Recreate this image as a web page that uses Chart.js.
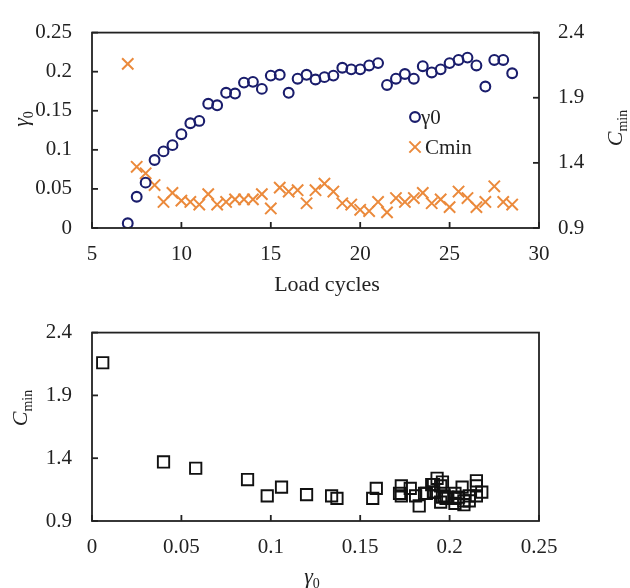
<!DOCTYPE html>
<html>
<head>
<meta charset="utf-8">
<script src="https://cdn.jsdelivr.net/npm/chart.js@4.4.1/dist/chart.umd.min.js"></script>
<style>
  html,body{margin:0;padding:0;background:#fff;}
  #wrap{position:relative;width:630px;height:588px;}
  #top{position:absolute;left:0;top:0;}
  #bottom{position:absolute;left:0;top:300px;}
</style>
</head>
<body>
<div id="wrap">
  <canvas id="top" width="630" height="300"></canvas>
  <canvas id="bottom" width="630" height="288"></canvas>
</div>
<script>
// === Data ===
const cycles = [7, 7.5, 8, 8.5, 9, 9.5, 10, 10.5, 11, 11.5, 12, 12.5, 13, 13.5, 14, 14.5,
  15, 15.5, 16, 16.5, 17, 17.5, 18, 18.5, 19, 19.5, 20, 20.5, 21, 21.5, 22, 22.5,
  23, 23.5, 24, 24.5, 25, 25.5, 26, 26.5, 27, 27.5, 28, 28.5];
const gamma0 = [0.006, 0.040, 0.058, 0.087, 0.098, 0.106, 0.120, 0.134, 0.137, 0.159, 0.157, 0.173,
  0.172, 0.186, 0.187, 0.178, 0.195, 0.196, 0.173, 0.191, 0.196, 0.190, 0.193, 0.195,
  0.205, 0.203, 0.203, 0.208, 0.211, 0.183, 0.191, 0.197, 0.191, 0.207, 0.199, 0.203,
  0.211, 0.215, 0.218, 0.208, 0.181, 0.215, 0.215, 0.198];
const cmin = [2.16, 1.37, 1.32, 1.23, 1.10, 1.17, 1.11, 1.10, 1.08, 1.16, 1.08, 1.10,
  1.12, 1.12, 1.12, 1.16, 1.05, 1.21, 1.18, 1.19, 1.09, 1.19, 1.24, 1.18,
  1.09, 1.08, 1.04, 1.03, 1.10, 1.02, 1.13, 1.10, 1.13, 1.17, 1.09, 1.12,
  1.06, 1.18, 1.13, 1.06, 1.10, 1.22, 1.10, 1.08];

const cycleTicks = [5, 10, 15, 20, 25, 30];
const cycleLabels = ["5", "10", "15", "20", "25", "30"];
const gammaTicks = [0, 0.05, 0.1, 0.15, 0.2, 0.25];
const gammaLabels = ["0", "0.05", "0.1", "0.15", "0.2", "0.25"];
const cminTicks = [0.9, 1.4, 1.9, 2.4];
const cminLabels = ["0.9", "1.4", "1.9", "2.4"];

// === Style ===
const FONT = "'Liberation Serif', 'Times New Roman', serif";
const INK = "#222";
const NAVY = "#1a1d6c";
const ORANGE = "#eb8a3c";

Chart.defaults.font.family = FONT;
Chart.defaults.color = INK;

function axis(position, min, max, ticks, labels, size, pad, inward){
  return {
    type: "linear", position, min, max,
    afterBuildTicks: s => { s.ticks = ticks.map(v => ({value: v})); },
    afterFit: s => { if(s.isHorizontal()) s.height = size; else s.width = size; },
    ticks: {callback: (v, i) => labels[i], font: {size: 21}, padding: pad, color: INK, maxRotation: 0, autoSkip: false},
    grid: {display: false, drawTicks: false},
    border: {display: false},
    inward: inward
  };
}

// text with italic / subscript pieces
function partFont(p){
  return (p.italic ? "italic " : "") + (p.sub ? 14 : 22) + "px " + FONT;
}

function drawRich(ctx, parts, x, y, rot){
  ctx.save();
  ctx.translate(x, y);
  ctx.rotate(rot);
  let total = 0;
  parts.forEach(p => { ctx.font = partFont(p); p.w = ctx.measureText(p.t).width; total += p.w; });
  let cx = -total / 2;
  ctx.textBaseline = "alphabetic";
  ctx.fillStyle = INK;
  parts.forEach(p => {
    ctx.font = partFont(p);
    ctx.fillText(p.t, cx, p.sub ? 12 : 7);
    cx += p.w;
  });
  ctx.restore();
}

// === Frame, inward ticks, titles, legend ===
const framePlugin = {
  id: "frame",
  afterDatasetsDraw(chart, args, opts){
    const {ctx, chartArea: a} = chart;
    ctx.save();
    ctx.strokeStyle = INK;
    ctx.lineWidth = 1.8;
    ctx.strokeRect(a.left, a.top, a.right - a.left, a.bottom - a.top);

    Object.values(chart.scales).forEach(s => {
      const dir = s.options.inward;
      s.ticks.forEach(t => {
        const p = s.getPixelForValue(t.value);
        ctx.beginPath();
        if(dir === "up"){ ctx.moveTo(p, a.bottom); ctx.lineTo(p, a.bottom - 6); }
        if(dir === "right"){ ctx.moveTo(a.left, p); ctx.lineTo(a.left + 6, p); }
        if(dir === "left"){ ctx.moveTo(a.right, p); ctx.lineTo(a.right - 6, p); }
        ctx.stroke();
      });
    });
    ctx.restore();

    (opts.titles || []).forEach(t => drawRich(ctx, t.parts, t.x, t.y, t.rot || 0));

    (opts.legend || []).forEach(l => {
      const ds = chart.data.datasets[l.ds];
      ctx.save();
      ctx.strokeStyle = ds.borderColor;
      ctx.lineWidth = ds.borderWidth;
      ctx.beginPath();
      if(ds.pointStyle === "circle"){
        ctx.arc(l.x, l.y, ds.pointRadius, 0, Math.PI * 2);
      } else {
        const d = ds.pointRadius * Math.SQRT1_2;
        ctx.moveTo(l.x - d, l.y - d); ctx.lineTo(l.x + d, l.y + d);
        ctx.moveTo(l.x - d, l.y + d); ctx.lineTo(l.x + d, l.y - d);
      }
      ctx.stroke();
      ctx.fillStyle = INK;
      ctx.font = "21px " + FONT;
      ctx.textBaseline = "middle";
      ctx.fillText(ds.label, l.x + l.gap, l.y + 1);
      ctx.restore();
    });
  }
};

// === Top chart: gamma0 and Cmin vs load cycles ===
new Chart(document.getElementById("top"), {
  type: "scatter",
  data: {
    datasets: [
      {label: "γ0", data: cycles.map((c, i) => ({x: c, y: gamma0[i]})), yAxisID: "y",
       pointStyle: "circle", pointRadius: 4.9, borderWidth: 2.1, borderColor: NAVY, backgroundColor: "rgba(0,0,0,0)"},
      {label: "Cmin", data: cycles.map((c, i) => ({x: c, y: cmin[i]})), yAxisID: "y2",
       pointStyle: "crossRot", pointRadius: 8, borderWidth: 2, borderColor: ORANGE, backgroundColor: ORANGE}
    ]
  },
  options: {
    responsive: false, animation: false, events: [],
    layout: {padding: {top: 23, left: 0, right: 0, bottom: 0}},
    scales: {
      x: axis("bottom", 5, 30, cycleTicks, cycleLabels, 72, 14, "up"),
      y: axis("left", 0, 0.25, gammaTicks, gammaLabels, 92, 20, "right"),
      y2: axis("right", 0.9, 2.4, cminTicks, cminLabels, 91, 19, "left")
    },
    plugins: {
      legend: {display: false},
      tooltip: {enabled: false},
      frame: {
        titles: [
          {parts: [{t: "γ", italic: true}, {t: "0", sub: true}], x: 21, y: 119, rot: -Math.PI / 2},
          {parts: [{t: "C", italic: true}, {t: "min", sub: true}], x: 615, y: 128, rot: -Math.PI / 2},
          {parts: [{t: "Load cycles"}], x: 327, y: 284}
        ],
        legend: [{ds: 0, x: 415, y: 117, gap: 6}, {ds: 1, x: 415, y: 147, gap: 10}]
      }
    }
  },
  plugins: [framePlugin]
});

// === Bottom chart: Cmin vs gamma0 ===
new Chart(document.getElementById("bottom"), {
  type: "scatter",
  data: {
    datasets: [
      {label: "Cmin", data: gamma0.map((g, i) => ({x: g, y: cmin[i]})),
       pointStyle: "rect", pointRadius: 8, borderWidth: 1.9, borderColor: "#111", backgroundColor: "rgba(0,0,0,0)"}
    ]
  },
  options: {
    responsive: false, animation: false, events: [],
    layout: {padding: {top: 16, left: 0, right: 91, bottom: 0}},
    scales: {
      x: axis("bottom", 0, 0.25, gammaTicks, gammaLabels, 67, 14, "up"),
      y: axis("left", 0.9, 2.4, cminTicks, cminLabels, 92, 20, "right")
    },
    plugins: {
      legend: {display: false},
      tooltip: {enabled: false},
      frame: {
        titles: [
          {parts: [{t: "C", italic: true}, {t: "min", sub: true}], x: 20, y: 108, rot: -Math.PI / 2},
          {parts: [{t: "γ", italic: true}, {t: "0", sub: true}], x: 312, y: 276}
        ]
      }
    }
  },
  plugins: [framePlugin]
});
</script>
</body>
</html>
